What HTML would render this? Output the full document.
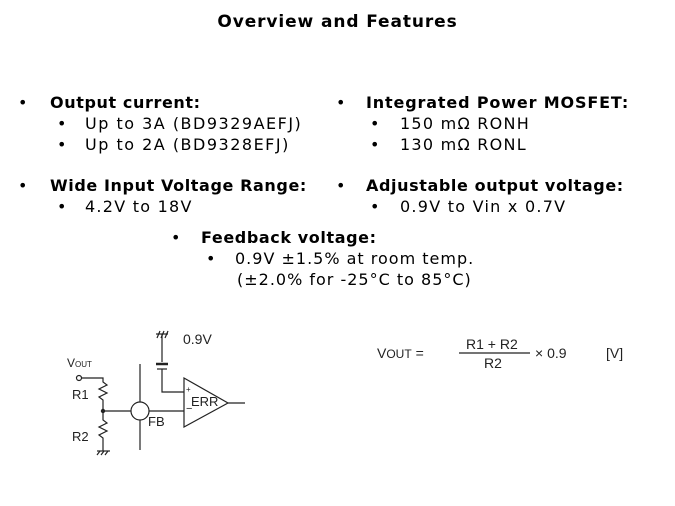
<!DOCTYPE html>
<html><head><style>
body{margin:0;width:675px;height:506px;background:#fff;overflow:hidden;font-family:"DejaVu Sans",sans-serif;}
.t{position:absolute;font-size:16px;letter-spacing:1.25px;color:#000;white-space:nowrap;line-height:1}
.b{font-weight:bold;letter-spacing:0.6px}
</style></head><body>
<div class="t b" style="left:0;width:675px;text-align:center;top:14px;font-size:17px;letter-spacing:0.9px">Overview and Features</div>

<div class="t" style="left:18px;top:95px">•</div><div class="t b" style="left:50px;top:95px">Output current:</div>
<div class="t" style="left:57px;top:116px">•</div><div class="t" style="left:85px;top:116px;letter-spacing:1.5px">Up to 3A (BD9329AEFJ)</div>
<div class="t" style="left:57px;top:137px">•</div><div class="t" style="left:85px;top:137px;letter-spacing:1.5px">Up to 2A (BD9328EFJ)</div>
<div class="t" style="left:18px;top:178px">•</div><div class="t b" style="left:50px;top:178px">Wide Input Voltage Range:</div>
<div class="t" style="left:57px;top:199px">•</div><div class="t" style="left:85px;top:199px">4.2V to 18V</div>

<div class="t" style="left:336px;top:95px">•</div><div class="t b" style="left:366px;top:95px;letter-spacing:0.85px">Integrated Power MOSFET:</div>
<div class="t" style="left:370px;top:116px">•</div><div class="t" style="left:400px;top:116px">150 mΩ RONH</div>
<div class="t" style="left:370px;top:137px">•</div><div class="t" style="left:400px;top:137px">130 mΩ RONL</div>
<div class="t" style="left:336px;top:178px">•</div><div class="t b" style="left:366px;top:178px">Adjustable output voltage:</div>
<div class="t" style="left:370px;top:199px">•</div><div class="t" style="left:400px;top:199px">0.9V to Vin x 0.7V</div>

<div class="t" style="left:171px;top:230px">•</div><div class="t b" style="left:201px;top:230px">Feedback voltage:</div>
<div class="t" style="left:206px;top:251px">•</div><div class="t" style="left:235px;top:251px;letter-spacing:1px">0.9V ±1.5% at room temp.</div>
<div class="t" style="left:237px;top:272px;letter-spacing:1px">(±2.0% for -25°C to 85°C)</div>

<svg style="position:absolute;left:0;top:0" width="675" height="506" font-family="Liberation Sans, sans-serif">
<g stroke="#222" stroke-width="1.2" fill="none">
<line x1="156" y1="334" x2="168" y2="334"/><line x1="157" y1="338" x2="160" y2="331"/><line x1="161" y1="338" x2="164" y2="331"/><line x1="165" y1="338" x2="168" y2="331"/>
<line x1="162" y1="334" x2="162" y2="362"/>
<line x1="156" y1="364" x2="168" y2="364" stroke-width="2.5"/>
<line x1="157" y1="369" x2="167" y2="369"/>
<polyline points="162,369 162,392 184,392"/>
<polygon points="184,378 184,427 228,403"/>
<line x1="228" y1="403" x2="245" y2="403"/>
<line x1="140" y1="364" x2="140" y2="450"/>
<circle cx="140" cy="411" r="9" fill="#fff"/>
<line x1="103" y1="411" x2="131" y2="411"/><line x1="149" y1="411" x2="184" y2="411"/>
<circle cx="79" cy="378" r="2.5" fill="#fff"/>
<polyline points="81,378 103,378 103,382 107,385 99,389 107,393 99,397 103,400 103,420 107,423 99,427 107,431 99,435 103,438 103,451"/>
<line x1="97" y1="451" x2="110" y2="451"/><line x1="97" y1="455" x2="100" y2="451"/><line x1="101" y1="455" x2="104" y2="451"/><line x1="105" y1="455" x2="108" y2="451"/>
<line x1="459" y1="353" x2="530" y2="353"/>
</g>
<circle cx="103" cy="411" r="2.2" fill="#222"/>
<g fill="#222" font-size="13">
<text x="183" y="344" font-size="14">0.9V</text>
<text x="67" y="367" font-size="12">V<tspan font-size="8">OUT</tspan></text>
<text x="72" y="399">R1</text>
<text x="72" y="441">R2</text>
<text x="148" y="426">FB</text>
<text x="191" y="406">ERR</text>
<text x="186" y="392" font-size="8">+</text>
<text x="186" y="412" font-size="11">−</text>
<text x="377" y="358" font-size="14">V<tspan font-size="12">OUT</tspan> =</text>
<text x="466" y="349" font-size="14">R1 + R2</text>
<text x="484" y="368" font-size="14">R2</text>
<text x="535" y="358" font-size="14">× 0.9</text>
<text x="606" y="358" font-size="14">[V]</text>
</g>
</svg>
</body></html>
